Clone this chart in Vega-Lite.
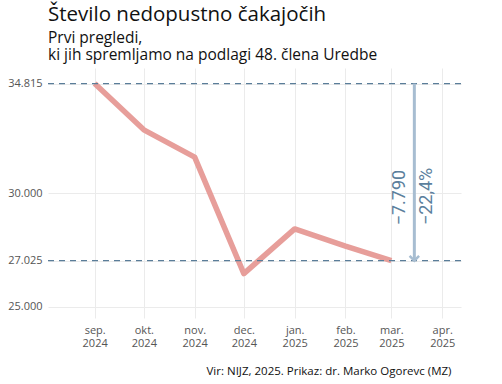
{
  "$schema": "https://vega.github.io/schema/vega-lite/v6.json",
  "width": 413,
  "height": 250,
  "autosize": {"type": "none"},
  "padding": {"left": 48, "top": 68, "right": 41, "bottom": 66},
  "background": "white",
  "config": {
    "view": {"stroke": null},
    "font": "Open Sans",
    "axis": {
      "domain": false,
      "ticks": false,
      "gridColor": "#ebebeb",
      "gridWidth": 1,
      "labelFont": "Open Sans",
      "labelFontSize": 11,
      "labelColor": "#555555"
    }
  },
  "title": {
    "text": "Število nedopustno čakajočih",
    "subtitle": ["Prvi pregledi,", "ki jih spremljamo na podlagi 48. člena Uredbe"],
    "anchor": "start",
    "frame": "group",
    "font": "Open Sans",
    "fontSize": 20.5,
    "fontWeight": "normal",
    "color": "#111111",
    "subtitleFont": "Open Sans",
    "subtitleFontSize": 15.5,
    "subtitleColor": "#111111",
    "subtitleLineHeight": 16.6,
    "subtitlePadding": 5,
    "offset": 5
  },
  "datasets": {
    "series": [
      {"date": "2024-09-01", "value": 34815},
      {"date": "2024-10-01", "value": 32780},
      {"date": "2024-11-01", "value": 31580},
      {"date": "2024-12-01", "value": 26455},
      {"date": "2025-01-01", "value": 28420},
      {"date": "2025-02-01", "value": 27660},
      {"date": "2025-03-01", "value": 27025}
    ],
    "refs": [
      {"value": 34815},
      {"value": 27025}
    ],
    "arrow": [
      {"date": "2025-03-15", "value": 34815, "value2": 27025}
    ],
    "labels": [
      {"date": "2025-03-06", "value": 29800, "label": "−7.790"},
      {"date": "2025-03-23", "value": 29850, "label": "−22,4%"}
    ]
  },
  "layer": [
    {
      "data": {"name": "series"},
      "mark": {"type": "line", "color": "#e79e9a", "strokeWidth": 5.5, "strokeCap": "butt", "strokeJoin": "round"},
      "encoding": {
        "x": {
          "field": "date",
          "type": "temporal",
          "scale": {
            "type": "utc",
            "domain": [
              {"year": 2024, "month": 8, "date": 3, "hours": 13, "utc": true},
              {"year": 2025, "month": 4, "date": 12, "hours": 11, "utc": true}
            ]
          },
          "axis": {
            "title": "Vir: NIJZ, 2025. Prikaz: dr. Marko Ogorevc (MZ)",
            "titleFont": "Open Sans",
            "titleFontSize": 11.5,
            "titleFontWeight": "normal",
            "titleColor": "#111111",
            "titleAnchor": "end",
            "titleAlign": "right",
            "titleX": 403,
            "titlePadding": 17,
            "labelPadding": 6,
            "labelLineHeight": 13,
            "values": [
              {"year": 2024, "month": 9, "date": 1, "utc": true},
              {"year": 2024, "month": 10, "date": 1, "utc": true},
              {"year": 2024, "month": 11, "date": 1, "utc": true},
              {"year": 2024, "month": 12, "date": 1, "utc": true},
              {"year": 2025, "month": 1, "date": 1, "utc": true},
              {"year": 2025, "month": 2, "date": 1, "utc": true},
              {"year": 2025, "month": 3, "date": 1, "utc": true},
              {"year": 2025, "month": 4, "date": 1, "utc": true}
            ],
            "labelExpr": "[['jan.','feb.','mar.','apr.','maj','jun.','jul.','avg.','sep.','okt.','nov.','dec.'][utcmonth(datum.value)], utcFormat(datum.value, '%Y')]"
          }
        },
        "y": {
          "field": "value",
          "type": "quantitative",
          "scale": {"domain": [24500, 35500], "nice": false, "zero": false},
          "axis": {
            "title": null,
            "values": [25000, 27025, 30000, 34815],
            "labelPadding": 6,
            "labelExpr": "replace(format(datum.value, ','), ',', '.')"
          }
        }
      }
    },
    {
      "data": {"name": "refs"},
      "mark": {"type": "rule", "color": "#5a7d99", "strokeWidth": 1.2, "strokeDash": [6, 5]},
      "encoding": {
        "y": {"field": "value", "type": "quantitative"}
      }
    },
    {
      "data": {"name": "arrow"},
      "mark": {"type": "rule", "color": "#a7bdd1", "strokeWidth": 3},
      "encoding": {
        "x": {"field": "date", "type": "temporal"},
        "y": {"field": "value", "type": "quantitative"},
        "y2": {"field": "value2"}
      }
    },
    {
      "data": {"name": "arrow"},
      "mark": {"type": "point", "shape": "M-1,-1L0,0L1,-1", "filled": false, "stroke": "#a7bdd1", "strokeWidth": 2.5, "size": 90, "opacity": 1},
      "encoding": {
        "x": {"field": "date", "type": "temporal"},
        "y": {"field": "value2", "type": "quantitative"}
      }
    },
    {
      "data": {"name": "labels"},
      "mark": {"type": "text", "font": "Roboto", "fontSize": 18, "angle": 270, "align": "center", "baseline": "middle", "color": "#5b7f9d"},
      "encoding": {
        "x": {"field": "date", "type": "temporal"},
        "y": {"field": "value", "type": "quantitative"},
        "text": {"field": "label"}
      }
    }
  ]
}
